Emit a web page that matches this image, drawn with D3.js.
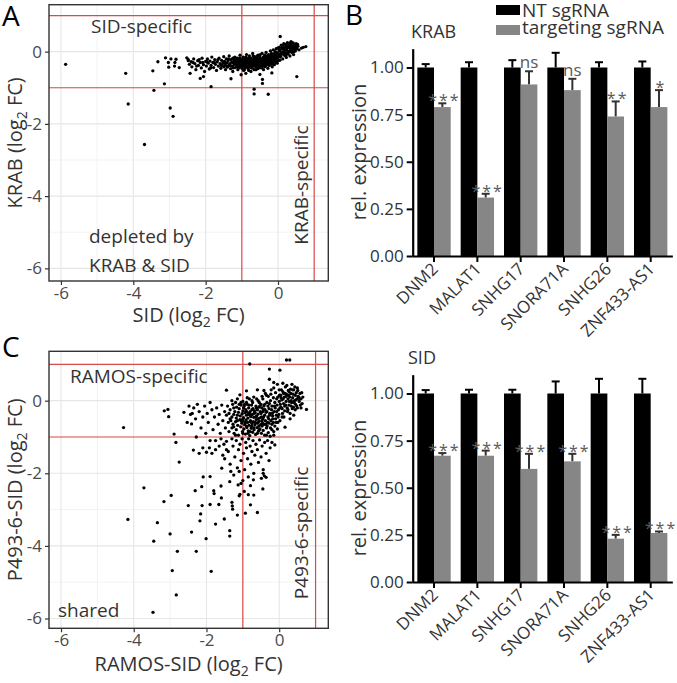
<!DOCTYPE html>
<html><head><meta charset="utf-8">
<script src="https://cdn.jsdelivr.net/npm/d3@7"></script>
<style>
body{margin:0;background:#fff}
svg{display:block}
text{font-family:'Open Sans',sans-serif}
</style></head>
<body><svg id="chart" width="677" height="683"></svg>
<script>
// ---------- DATA ----------
const genes = ["DNM2","MALAT1","SNHG17","SNORA71A","SNHG26","ZNF433-AS1"];
const series = ["NT sgRNA","targeting sgRNA"];
const krabNT = [1,1,1,1,1,1];
const krabNTErr = [0.018,0.028,0.039,0.078,0.028,0.032];
const krabT = [0.79,0.31,0.91,0.88,0.74,0.79];
const krabTErr = [0.02,0.02,0.07,0.06,0.08,0.09];
const krabSig = ["***","***","ns","ns","**","*"];
const sidNT = [1,1,1,1,1,1];
const sidNTErr = [0.018,0.02,0.02,0.064,0.078,0.078];
const sidT = [0.67,0.67,0.60,0.64,0.23,0.26];
const sidTErr = [0.014,0.027,0.08,0.04,0.02,0.008];
const sidSig = ["***","***","***","***","***","***"];
const barTicks = [0,0.25,0.5,0.75,1];
const scatterTicks = [-6,-4,-2,0];
const minorTicks = [-5,-3,-1,1];
const thresholds = [-1,1];

// Panel A: SID (x) vs KRAB (y), log2 FC
const scatterA = [
[-5.87,-0.35],[-4.21,-0.6],[-4.14,-1.45],[-3.69,-2.57],[-3.46,-0.53],[-3.43,-1.07],[-3.32,-0.28],[-3.14,-0.89],
[-3.11,-0.17],[-3.03,-0.3],[-3.02,-0.43],[-2.96,-0.2],[-2.85,-0.3],[-2.86,-0.4],[-2.82,-0.21],[-2.73,-0.44],
[-2.52,-0.17],[-2.48,-0.25],[-2.98,-1.56],[-2.9,-1.79],[-1.85,-0.97],[-0.66,-1.04],[-0.66,-1.17],[-0.27,-1.18],
[-0.43,-0.88],[-0.43,-0.77],[-0.17,-0.59],[-0.5,-0.63],[0.52,-0.69],[0.77,0.14],[0.06,0.42],[-1.02,-0.64],
[-1.3,-0.75],[-2.43,-0.6],[-2.15,-0.74],[-2.06,-0.69],
[-2.48,-0.22],[-2.45,-0.35],[-2.4,-0.28],[-2.38,-0.42],[-2.33,-0.2],[-2.3,-0.33],[-2.27,-0.5],[-2.22,-0.25],
[-2.2,-0.38],[-2.15,-0.3],[-2.12,-0.45],[-2.1,-0.18],[-2.06,-0.36],[-2.03,-0.55],[-2.0,-0.27],
[-1.98,-0.4],[-1.95,-0.2],[-1.93,-0.32],[-1.9,-0.48],[-1.88,-0.26],[-1.85,-0.38],[-1.83,-0.15],[-1.8,-0.3],
[-1.78,-0.44],[-1.75,-0.22],[-1.73,-0.35],[-1.7,-0.52],[-1.68,-0.28],[-1.65,-0.4],[-1.63,-0.18],[-1.6,-0.33],
[-1.58,-0.46],[-1.56,-0.24],[-1.54,-0.37],[-1.52,-0.3],[-1.5,-0.42],[-1.5,-0.14],
[-1.48,-0.27],[-1.46,-0.36],[-1.45,-0.5],[-1.43,-0.2],[-1.41,-0.31],[-1.4,-0.43],[-1.38,-0.25],[-1.36,-0.38],
[-1.35,-0.12],[-1.33,-0.33],[-1.31,-0.47],[-1.3,-0.22],[-1.28,-0.29],[-1.26,-0.4],[-1.25,-0.55],[-1.23,-0.17],
[-1.21,-0.34],[-1.2,-0.26],[-1.18,-0.44],[-1.16,-0.3],[-1.15,-0.2],[-1.13,-0.37],[-1.11,-0.5],[-1.1,-0.24],
[-1.08,-0.32],[-1.06,-0.41],[-1.05,-0.1],[-1.03,-0.28],[-1.02,-0.36],[-1.0,-0.46],[-1.0,-0.21],
[-0.98,-0.3],[-0.97,-0.39],[-0.96,-0.15],[-0.95,-0.52],[-0.94,-0.25],[-0.93,-0.34],[-0.92,-0.44],[-0.91,-0.2],
[-0.9,-0.29],[-0.89,-0.6],[-0.88,-0.37],[-0.87,-0.08],[-0.86,-0.24],[-0.85,-0.42],[-0.84,-0.32],[-0.83,-0.18],
[-0.82,-0.48],[-0.81,-0.27],[-0.8,-0.36],[-0.79,-0.12],[-0.78,-0.22],[-0.77,-0.4],[-0.76,-0.3],[-0.75,-0.55],
[-0.74,-0.19],[-0.73,-0.34],[-0.72,-0.26],[-0.71,-0.45],[-0.7,-0.05],[-0.69,-0.31],[-0.68,-0.38],[-0.67,-0.21],
[-0.66,-0.5],[-0.65,-0.28],[-0.64,-0.14],[-0.63,-0.35],[-0.62,-0.24],[-0.61,-0.42],[-0.6,-0.3],[-0.59,-0.18],
[-0.58,-0.37],[-0.57,-0.26],[-0.56,-0.47],[-0.55,-0.1],[-0.54,-0.33],[-0.53,-0.22],[-0.52,-0.4],[-0.51,-0.29],[-0.5,-0.16],
[-0.49,-0.36],[-0.48,-0.25],[-0.47,-0.44],[-0.46,-0.2],[-0.45,-0.31],[-0.44,-0.05],[-0.43,-0.38],[-0.42,-0.27],
[-0.41,-0.15],[-0.4,-0.5],[-0.39,-0.23],[-0.38,-0.34],[-0.37,-0.1],[-0.36,-0.29],[-0.35,-0.41],[-0.34,-0.18],
[-0.33,-0.02],[-0.32,-0.26],[-0.31,-0.35],[-0.3,-0.13],[-0.29,-0.22],[-0.28,-0.46],[-0.27,-0.3],[-0.26,-0.08],
[-0.25,-0.2],[-0.24,-0.38],[-0.23,-0.14],[-0.22,-0.27],[-0.21,0.02],[-0.2,-0.33],[-0.19,-0.18],[-0.18,-0.05],
[-0.17,-0.24],[-0.16,-0.42],[-0.15,-0.12],[-0.14,-0.3],[-0.13,0.05],[-0.12,-0.2],[-0.11,-0.09],[-0.1,-0.36],
[-0.09,-0.16],[-0.08,0.0],[-0.07,-0.26],[-0.06,-0.11],[-0.05,0.08],[-0.04,-0.21],[-0.03,-0.04],[-0.02,-0.32],[-0.01,0.1],[0.0,-0.15],
[0.02,-0.06],[0.03,0.12],[0.05,-0.24],[0.06,0.02],[0.08,-0.12],[0.09,0.18],[0.1,-0.03],[0.12,0.08],[0.13,-0.2],
[0.15,0.0],[0.16,0.22],[0.18,-0.1],[0.19,0.1],[0.2,-0.04],[0.22,0.15],[0.23,-0.16],[0.25,0.04],[0.26,0.25],
[0.28,-0.07],[0.29,0.12],[0.3,0.0],[0.32,0.2],[0.33,-0.12],[0.35,0.06],[0.36,0.28],[0.38,-0.02],[0.39,0.14],
[0.4,0.05],[0.42,0.24],[0.43,-0.08],[0.45,0.1],[0.46,0.18],[0.48,0.02],[0.5,0.22],[0.52,0.08],[0.55,0.15],[0.58,0.05],[0.65,0.1],[0.7,0.12],
[-1.25,-0.3],[-1.22,-0.22],[-1.19,-0.35],[-1.17,-0.27],[-1.14,-0.41],[-1.12,-0.18],[-1.09,-0.29],[-1.07,-0.35],
[-1.04,-0.23],[-1.01,-0.4],[-0.99,-0.25],[-0.96,-0.33],[-0.94,-0.4],[-0.92,-0.28],[-0.9,-0.36],[-0.88,-0.2],
[-0.86,-0.31],[-0.84,-0.45],[-0.82,-0.25],[-0.8,-0.41],[-0.78,-0.29],[-0.76,-0.35],[-0.74,-0.24],[-0.72,-0.39],
[-0.7,-0.27],[-0.68,-0.33],[-0.66,-0.17],[-0.64,-0.4],[-0.62,-0.3],[-0.6,-0.22],[-0.58,-0.43],[-0.56,-0.32],
[-0.54,-0.2],[-0.52,-0.36],[-0.5,-0.27],[-0.48,-0.31],[-0.46,-0.38],[-0.44,-0.25],[-0.42,-0.33],[-0.4,-0.19],
[-0.38,-0.28],[-0.36,-0.36],[-0.34,-0.24],[-0.32,-0.31],[-0.3,-0.2],[-0.28,-0.36],[-0.26,-0.25],[-0.24,-0.16],
[-0.22,-0.33],[-0.2,-0.24],[-0.18,-0.12],[-0.16,-0.28],[-0.14,-0.19],[-0.12,-0.07],[-0.1,-0.25],[-0.08,-0.14],
[-0.06,-0.3],[-0.04,-0.03],[-0.02,-0.18],[0.01,-0.1],[0.04,0.05],[0.07,-0.07],[0.11,0.12],[0.14,-0.06],
[0.17,0.06],[0.21,-0.1],[0.24,0.1],[0.27,0.0],[0.31,0.12],[0.34,0.02],[0.37,0.18],[0.41,0.1],[0.44,0.0],[0.47,0.12],
[-2.35,-0.3],[-2.25,-0.4],[-2.18,-0.22],[-2.08,-0.3],[-1.96,-0.28],[-1.86,-0.45],[-1.76,-0.3],[-1.66,-0.22],
[-1.57,-0.38],[-1.47,-0.3],[-1.42,-0.4],[-1.37,-0.2],[-1.32,-0.38],[-1.27,-0.2],[-1.24,-0.45],[-1.19,-0.15],
[-1.14,-0.28],[-1.09,-0.45],[-1.06,-0.18],[-0.97,-0.22],[-0.93,-0.5],[-0.89,-0.15],[-0.85,-0.28],[-0.81,-0.52],
[-0.77,-0.18],[-0.73,-0.45],[-0.69,-0.12],[-0.65,-0.36],[-0.61,-0.5],[-0.57,-0.12],[-0.53,-0.45],[-0.49,-0.08],
[-0.45,-0.45],[-0.41,-0.32],[-0.37,-0.42],[-0.33,-0.12],[-0.29,-0.28],[-0.25,-0.32],[-0.21,-0.1],[-0.17,-0.35],
[-0.13,-0.25],[-0.09,-0.05],[-0.05,-0.18],[-0.01,-0.25],[0.03,0.02],[0.06,-0.15],[0.1,0.1],[0.14,0.16],
[0.18,0.02],[0.22,0.2],[0.26,-0.05],[0.3,0.18],[0.34,0.12],[0.38,0.08],[0.42,0.16],[0.46,0.06],[0.5,0.14],
[0.54,0.2],[0.35,0.25],[0.25,0.15]
];

// Panel C: RAMOS-SID (x) vs P493-6-SID (y), log2 FC
const scatterC = [
[-4.28,-0.74],[-4.16,-3.27],[-3.72,-2.4],[-3.45,-3.87],[-3.35,-3.36],[-3.47,-5.83],[-3.17,-2.78],[-3.16,-0.28],
[-3.06,-0.24],[-3.04,-0.44],[-3.0,-3.67],[-2.97,-2.61],[-2.94,-4.68],[-2.89,-0.92],[-2.84,-1.15],[-2.83,-5.35],
[-2.8,-4.15],[-2.75,-1.69],[-2.5,-2.89],[-2.41,-3.62],[-2.31,-2.48],[-2.28,-4.15],[-2.16,-3.12],[-2.18,-3.31],
[-2.13,-2.37],[-2.09,-2.1],[-2.01,-3.8],[-2.12,-2.89],[-1.9,-2.09],[-1.87,-4.7],[-1.8,-2.48],[-1.79,-2.56],
[-1.75,-3.4],[-1.6,-2.35],[-1.59,-2.68],[-1.66,-2.86],[-1.9,-2.86],[-1.51,-3.26],[-1.36,-2.23],[-1.36,-3.58],
[-1.36,-3.73],[-1.3,-2.8],[-1.29,-2.9],[-1.28,-2.99],[-1.15,-3.15],[-1.1,-2.62],[-1.08,-2.58],[-1.13,-2.32],
[-1.05,-2.28],[-0.93,-3.1],[-0.96,-2.5],[-0.85,-2.59],[-0.79,-2.87],[-0.79,-2.34],[-0.7,-2.6],[-0.6,-3.08],
[-0.45,-2.43],[-0.49,-2.14],[-0.41,-2.07],[-0.36,-2.11],
[-0.27,0.59],[-0.27,0.87],[0.02,0.84],[0.2,1.12],[0.29,1.12],[-0.81,1.01],[-0.15,0.5],[-0.05,0.45],[0.1,0.48],
[-0.6,0.3],[-0.9,0.27],[-1.08,0.16],[-1.45,0.29],[0.16,-0.73],[0.3,-0.5],[0.4,-0.4],
[-0.48,-0.2],[-0.45,0.05],[-0.43,-0.45],[-0.4,-0.1],[-0.38,0.2],[-0.36,-0.32],[-0.34,-0.05],[-0.32,-0.6],
[-0.3,0.12],[-0.28,-0.22],[-0.26,-0.4],[-0.24,0.0],[-0.22,0.3],[-0.2,-0.15],[-0.18,-0.5],[-0.16,0.08],
[-0.14,-0.3],[-0.12,-0.05],[-0.1,0.22],[-0.08,-0.4],[-0.06,-0.12],[-0.04,0.1],[-0.02,-0.25],[0.0,0.3],
[0.0,-0.02],[0.02,-0.55],[0.04,0.15],[0.05,-0.18],[0.07,0.02],[0.09,-0.35],[0.1,0.25],[0.12,-0.08],
[0.14,0.1],[0.15,-0.28],[0.17,0.38],[0.19,-0.02],[0.2,0.18],[0.22,-0.2],[0.24,0.05],[0.25,0.28],
[0.27,-0.12],[0.29,0.1],[0.3,-0.35],[0.32,0.2],[0.34,-0.05],[0.35,0.45],[0.37,0.08],[0.39,-0.18],
[0.4,0.3],[0.42,0.0],[0.44,0.15],[0.45,-0.1],[0.47,0.22],[0.49,0.05],[0.5,-0.2],[0.52,0.12],
[0.55,-0.02],[0.57,0.2],[0.6,0.05],[0.63,-0.08],[0.65,0.1],[0.75,-0.24],
[-0.47,-0.55],[-0.42,0.28],[-0.39,-0.25],[-0.35,0.15],[-0.31,-0.45],[-0.27,-0.08],[-0.23,0.18],[-0.19,-0.35],
[-0.15,0.35],[-0.11,-0.2],[-0.07,0.05],[-0.03,-0.45],[0.01,0.15],[0.03,-0.1],[0.06,0.3],[0.08,-0.22],
[0.11,0.05],[0.13,-0.45],[0.16,0.2],[0.18,-0.12],[0.21,0.42],[0.23,-0.3],[0.26,0.15],[0.28,-0.02],
[0.31,0.32],[0.33,0.0],[0.36,-0.22],[0.38,0.18],[0.41,-0.05],[0.43,0.38],[0.46,0.02],[0.48,-0.15],
[0.51,0.28],[0.54,0.1],[0.58,-0.12],[0.62,0.22],
[-1.3,0.0],[-1.15,0.05],[-1.0,-0.02],[-0.88,0.08],[-0.75,0.0],[-0.62,0.05],[-0.55,-0.05],[-0.7,0.1],
[-1.42,-0.15],[-1.35,-0.25],[-1.28,-0.1],[-1.22,-0.3],[-1.17,-0.18],[-1.1,-0.22],[-1.05,-0.12],[-1.0,-0.28],
[-0.96,-0.15],[-0.92,-0.25],[-0.88,-0.1],[-0.84,-0.2],[-0.8,-0.3],[-0.76,-0.12],[-0.72,-0.22],[-0.68,-0.28],
[-0.64,-0.15],[-0.6,-0.25],[-0.56,-0.18],[-0.52,-0.3],[-0.5,-0.1],
[-1.45,-0.4],[-1.38,-0.35],[-1.3,-0.45],[-1.25,-0.38],[-1.18,-0.48],[-1.12,-0.32],[-1.07,-0.42],[-1.02,-0.36],
[-0.98,-0.47],[-0.94,-0.33],[-0.9,-0.4],[-0.86,-0.48],[-0.82,-0.35],[-0.78,-0.44],[-0.74,-0.38],[-0.7,-0.46],
[-0.66,-0.33],[-0.62,-0.42],[-0.58,-0.37],[-0.54,-0.48],[-0.5,-0.35],
[-1.4,-0.6],[-1.33,-0.55],[-1.27,-0.65],[-1.2,-0.58],[-1.14,-0.68],[-1.08,-0.52],[-1.03,-0.62],[-0.99,-0.56],
[-0.95,-0.66],[-0.91,-0.53],[-0.87,-0.6],[-0.83,-0.68],[-0.79,-0.55],[-0.75,-0.63],[-0.71,-0.58],[-0.67,-0.67],
[-0.63,-0.52],[-0.59,-0.61],[-0.55,-0.57],[-0.51,-0.66],[-0.47,-0.7],
[-1.38,-0.85],[-1.3,-0.75],[-1.24,-0.9],[-1.18,-0.8],[-1.12,-0.95],[-1.06,-0.72],[-1.01,-0.85],[-0.97,-0.78],
[-0.93,-0.92],[-0.89,-0.74],[-0.85,-0.83],[-0.81,-0.96],[-0.77,-0.76],[-0.73,-0.87],[-0.69,-0.8],[-0.65,-0.93],
[-0.61,-0.74],[-0.57,-0.84],[-0.53,-0.78],[-0.49,-0.9],[-0.44,-0.82],[-0.4,-0.95],[-0.35,-0.75],[-0.3,-0.88],
[-0.25,-0.98],[-0.2,-0.8],
[-1.0,-0.5],[-0.95,-0.1],[-0.9,-0.7],[-0.85,-0.38],[-0.8,-0.58],[-0.75,-0.25],[-0.7,-0.75],[-0.65,-0.45],
[-0.6,-0.62],[-0.55,-0.8],[-0.45,-0.5],[-0.42,-0.65],[-0.38,-0.55],[-0.33,-0.7],[-0.28,-0.62],[-0.24,-0.75],
[-0.2,-0.65],[-0.15,-0.85],[-0.12,-0.7],[-0.08,-0.6],[-0.05,-0.78],[-1.05,-0.05],[-1.2,-0.05],[-0.82,0.05],
[-0.45,-0.3],[-0.42,-0.15],[-0.58,0.0],[-0.47,0.12],
[-2.53,-0.6],[-2.41,-0.64],[-2.44,-0.38],[-2.39,-0.35],[-2.35,-0.2],[-2.3,-0.5],[-2.25,-0.1],[-2.2,-0.3],
[-2.15,-0.75],[-2.1,-0.45],[-2.05,-0.15],[-2.02,-0.9],[-1.98,-0.35],[-1.95,-0.6],[-1.9,-0.05],[-1.85,-0.25],
[-1.82,-0.8],[-1.78,-0.45],[-1.75,-1.1],[-1.72,-0.2],[-1.68,-0.65],[-1.65,-0.38],[-1.62,-0.9],[-1.58,-0.12],
[-1.55,-0.55],[-1.52,-1.2],[-1.5,-0.3],[-1.48,-0.75],[-2.36,-1.36],[-2.2,-1.45],[-2.1,-1.3],[-2.0,-1.42],
[-1.92,-1.3],[-1.85,-1.45],[-1.75,-1.35],[-1.65,-1.25],[-1.55,-1.5],[-1.45,-1.35],[-2.28,-1.0],[-1.9,-1.1],
[-2.62,-0.32],[-2.48,-0.15],
[-1.6,-1.05],[-1.5,-1.6],[-1.45,-1.12],[-1.4,-1.4],[-1.35,-1.75],[-1.3,-1.05],[-1.27,-1.25],[-1.22,-1.55],
[-1.18,-1.1],[-1.15,-1.85],[-1.12,-1.35],[-1.08,-1.2],[-1.05,-1.65],[-1.02,-1.05],[-0.98,-1.45],[-0.95,-1.9],
[-0.92,-1.15],[-0.9,-1.3],[-0.87,-1.6],[-0.84,-1.05],[-0.8,-1.25],[-0.78,-1.75],[-0.75,-1.4],[-0.72,-1.1],
[-0.7,-2.0],[-0.67,-1.5],[-0.64,-1.2],[-0.6,-1.35],[-0.57,-1.7],[-0.54,-1.08],[-0.5,-1.55],[-0.47,-1.25],
[-0.44,-1.9],[-0.4,-1.15],[-0.36,-1.45],[-0.32,-1.1],[-0.28,-1.65],[-0.25,-1.3],[-0.2,-1.15],[-0.12,-1.22],
[-0.44,-2.0],[-0.71,-2.18],[-1.58,-1.86],[-1.25,-2.05],[-1.0,-2.2],[-0.85,-2.1],[-1.1,-1.95],[-1.33,-1.95],
[-1.25,-0.2],[-1.15,-0.4],[-1.1,-0.1],[-1.05,-0.55],[-0.98,-0.2],[-0.93,-0.6],[-0.89,-0.3],[-0.86,-0.9],
[-0.83,-0.12],[-0.79,-0.4],[-0.76,-0.7],[-0.73,-0.05],[-0.69,-0.35],[-0.66,-0.6],[-0.63,-0.2],[-0.59,-0.5],
[-0.56,-0.7],[-0.53,-0.15],[-0.49,-0.45],[-0.46,-0.62],[-0.43,-0.25],[-0.4,-0.4],[-0.37,-0.65],[-0.34,-0.3],
[-0.31,-0.15],[-0.29,-0.5],[-0.26,-0.35],[-0.23,-0.55],[-0.21,-0.25],[-0.18,-0.42],[-0.16,-0.6],[-0.13,-0.15],
[-0.1,-0.5],[-0.07,-0.3],[-0.04,-0.6],[-0.01,-0.38],[0.02,-0.2],[0.05,0.08],[0.08,-0.45],[0.12,0.2],
[0.15,-0.15],[0.19,0.12],[0.24,-0.25],[0.27,0.25],[0.33,-0.15],[0.37,0.3],[0.44,-0.25],[0.5,0.35],
[0.56,0.05],[0.6,-0.2],[-1.35,-0.5],[-1.25,-0.72],[-1.15,-0.55],[-1.2,-0.95],[-1.0,-0.9],[-0.9,-0.05],
[-0.8,-0.85],[-0.6,-0.9],[-0.35,-0.95],[-0.15,-0.95]
];

// ---------- DRAW ----------
const svg = d3.select("#chart");
const TXT = "#333";

function log2Title(t, prefix){
  t.append("tspan").text(prefix + " (log");
  t.append("tspan").attr("font-size", 14).attr("dy", 5).text("2");
  t.append("tspan").attr("dy", -5).text(" FC)");
}

function scatter(cfg){
  const g = svg.append("g");
  const x = d3.scaleLinear().domain(cfg.xd).range([cfg.l, cfg.r]);
  const y = d3.scaleLinear().domain(cfg.yd).range([cfg.b, cfg.t]);
  // grid
  g.append("g").selectAll("line").data(minorTicks).join("line").attr("x1", d=>x(d)).attr("x2", d=>x(d))
    .attr("y1", cfg.t).attr("y2", cfg.b).attr("stroke", "#f0f0f0").attr("stroke-width", 0.8);
  g.append("g").selectAll("line").data(minorTicks).join("line").attr("y1", d=>y(d)).attr("y2", d=>y(d))
    .attr("x1", cfg.l).attr("x2", cfg.r).attr("stroke", "#f0f0f0").attr("stroke-width", 0.8);
  g.append("g").selectAll("line").data(scatterTicks).join("line").attr("x1", d=>x(d)).attr("x2", d=>x(d))
    .attr("y1", cfg.t).attr("y2", cfg.b).attr("stroke", "#e6e6e6").attr("stroke-width", 1.1);
  g.append("g").selectAll("line").data(scatterTicks).join("line").attr("y1", d=>y(d)).attr("y2", d=>y(d))
    .attr("x1", cfg.l).attr("x2", cfg.r).attr("stroke", "#e6e6e6").attr("stroke-width", 1.1);
  // threshold lines
  g.append("g").selectAll("line").data(thresholds).join("line").attr("x1", d=>x(d)).attr("x2", d=>x(d))
    .attr("y1", cfg.t).attr("y2", cfg.b).attr("stroke", "#d94a4a").attr("stroke-width", 1.2);
  g.append("g").selectAll("line").data(thresholds).join("line").attr("y1", d=>y(d)).attr("y2", d=>y(d))
    .attr("x1", cfg.l).attr("x2", cfg.r).attr("stroke", "#d94a4a").attr("stroke-width", 1.2);
  // points
  g.append("g").selectAll("circle").data(cfg.data).join("circle")
    .attr("cx", d=>x(d[0])).attr("cy", d=>y(d[1])).attr("r", 1.65).attr("fill", "#000");
  // frame
  g.append("rect").attr("x", cfg.l).attr("y", cfg.t).attr("width", cfg.r-cfg.l).attr("height", cfg.b-cfg.t)
    .attr("fill", "none").attr("stroke", "#333").attr("stroke-width", 1.4);
  // axes
  const ax = g.append("g").attr("transform", `translate(0,${cfg.b})`)
    .call(d3.axisBottom(x).tickValues(scatterTicks).tickSize(4).tickPadding(2).tickFormat(d3.format("d")));
  const ay = g.append("g").attr("transform", `translate(${cfg.l},0)`)
    .call(d3.axisLeft(y).tickValues(scatterTicks).tickSize(4).tickPadding(3).tickFormat(d3.format("d")));
  [ax, ay].forEach(a => {
    a.select(".domain").remove();
    a.selectAll(".tick line").attr("stroke", "#333").attr("stroke-width", 1.2);
    a.selectAll(".tick text").attr("font-size", 17).attr("fill", "#4a4a4a").attr("font-family", "'Open Sans',sans-serif");
  });
  ax.selectAll(".tick text").text(d => d < 0 ? "-" + Math.abs(d) : d);
  ay.selectAll(".tick text").text(d => d < 0 ? "-" + Math.abs(d) : d);
  // titles
  const xt = g.append("text").attr("x", (cfg.l+cfg.r)/2).attr("y", cfg.xTitleY).attr("text-anchor", "middle")
    .attr("font-size", 20).attr("fill", TXT);
  log2Title(xt, cfg.xTitle);
  const yt = g.append("text").attr("transform", `translate(${cfg.yTitleX},${(cfg.t+cfg.b)/2}) rotate(-90)`)
    .attr("text-anchor", "middle").attr("font-size", 20).attr("fill", TXT);
  log2Title(yt, cfg.yTitle);
  // annotations
  cfg.notes.forEach(n => {
    const t = g.append("text").attr("font-size", 19).attr("fill", TXT);
    if (n.rot) t.attr("transform", `translate(${n.x},${n.y}) rotate(-90)`).attr("text-anchor", "middle");
    else t.attr("x", n.x).attr("y", n.y);
    t.text(n.text);
  });
  svg.append("text").attr("x", 2).attr("y", cfg.letterY).attr("font-size", 28)
    .attr("font-family", "'Liberation Sans',Arial,sans-serif").attr("fill", "#000").text(cfg.letter);
}

scatter({l:49, r:328.3, t:4.7, b:281, xd:[-6.33,1.39], yd:[-6.35,1.30], data:scatterA,
  xTitle:"SID", yTitle:"KRAB", xTitleY:322, yTitleX:22, letter:"A", letterY:26,
  notes:[{text:"SID-specific", x:91, y:33},{text:"depleted by", x:89, y:243},{text:"KRAB & SID", x:89, y:272},
         {text:"KRAB-specific", x:308, y:185, rot:true}]});
scatter({l:49, r:328.3, t:351.3, b:628.3, xd:[-6.33,1.35], yd:[-6.27,1.36], data:scatterC,
  xTitle:"RAMOS-SID", yTitle:"P493-6-SID", xTitleY:671, yTitleX:22, letter:"C", letterY:357,
  notes:[{text:"RAMOS-specific", x:70, y:383},{text:"shared", x:58, y:617},
         {text:"P493-6-specific", x:308, y:533, rot:true}]});

// Bar charts
const GRAY = "#868686";
function barPanel(cfg){
  const g = svg.append("g");
  const x0 = d3.scaleBand().domain(genes).range([412.35, 672.35]);
  const bw = x0.bandwidth();
  const x1 = d3.scaleBand().domain(series).range([bw*0.115, bw*0.885]);
  const y = d3.scaleLinear().domain([0, 1.1]).range([cfg.y0, cfg.y0 - 1.1*188.5]);
  const rows = genes.map((gname, i) => ({gene:gname, vals:[
    {s:series[0], v:cfg.nt[i], e:cfg.ntE[i], c:"#000", ec:"#000"},
    {s:series[1], v:cfg.t[i], e:cfg.tE[i], c:GRAY, ec:"#333", sig:cfg.sig[i]}]}));
  const grp = g.selectAll(".grp").data(rows).join("g").attr("transform", d=>`translate(${x0(d.gene)},0)`);
  const bars = grp.selectAll("g").data(d=>d.vals).join("g");
  const cx = d => x1(d.s)+x1.bandwidth()/2;
  bars.append("line").attr("x1", cx).attr("x2", cx)
    .attr("y1", d=>y(d.v)).attr("y2", d=>y(d.v+d.e)).attr("stroke", d=>d.ec).attr("stroke-width", 2);
  bars.append("line").attr("x1", d=>cx(d)-4).attr("x2", d=>cx(d)+4)
    .attr("y1", d=>y(d.v+d.e)).attr("y2", d=>y(d.v+d.e)).attr("stroke", d=>d.ec).attr("stroke-width", 2);
  bars.append("rect").attr("x", d=>x1(d.s)).attr("width", x1.bandwidth())
    .attr("y", d=>y(d.v)).attr("height", d=>y(0)-y(d.v)).attr("fill", d=>d.c);
  bars.filter(d=>d.sig).append("text")
    .attr("x", d=>cx(d) + (d.sig==="ns"?0:2))
    .attr("y", d=> d.sig==="ns" ? y(d.v+d.e)-3 : y(d.v+d.e)+3)
    .attr("text-anchor", "middle").attr("fill", "#5a5a5a")
    .attr("font-size", d=>d.sig==="ns"?17:16).attr("letter-spacing", d=>d.sig==="ns"?0:2)
    .text(d=>d.sig);
  // axes
  const ay = g.append("g").attr("transform", `translate(412.7,0)`)
    .call(d3.axisLeft(y).tickValues(barTicks).tickSize(6).tickSizeOuter(0).tickPadding(3).tickFormat(d3.format(".2f")));
  const ax = g.append("g").attr("transform", `translate(0,${cfg.y0})`)
    .call(d3.axisBottom(x0).tickSize(6).tickSizeOuter(0).tickPadding(2));
  [ax, ay].forEach(a => {
    a.select(".domain").attr("stroke", "#000").attr("stroke-width", 2.2);
    a.selectAll(".tick line").attr("stroke", "#000").attr("stroke-width", 2);
    a.selectAll(".tick text").attr("font-size", 17).attr("fill", "#333").attr("font-family", "'Open Sans',sans-serif");
  });
  ax.selectAll(".tick text").attr("text-anchor", "end").attr("dy", 0)
    .attr("transform", "translate(5,14) rotate(-45)").attr("y", 0).attr("x", 0);
  g.append("text").attr("x", cfg.titleX).attr("y", cfg.titleY).attr("font-size", 18).attr("fill", TXT).text(cfg.title);
  g.append("text").attr("transform", `translate(366,${cfg.ytc}) rotate(-90)`).attr("text-anchor", "middle")
    .attr("font-size", 20).attr("fill", TXT).text("rel. expression");
}
barPanel({y0:256, nt:krabNT, ntE:krabNTErr, t:krabT, tE:krabTErr, sig:krabSig, title:"KRAB", titleX:411, titleY:38, ytc:152});
barPanel({y0:582, nt:sidNT, ntE:sidNTErr, t:sidT, tE:sidTErr, sig:sidSig, title:"SID", titleX:408, titleY:364, ytc:488});

// Legend
const lg = svg.append("g");
lg.selectAll("rect").data(series).join("rect").attr("x", 496).attr("y", (d,i)=>5+i*20)
  .attr("width", 24).attr("height", 10).attr("fill", (d,i)=> i===0 ? "#000" : GRAY);
lg.selectAll("text").data(series).join("text").attr("x", 522).attr("y", (d,i)=>16.5+i*17.5)
  .attr("font-size", 19).attr("fill", TXT).text(d=>d);
svg.append("text").attr("x", 345).attr("y", 25).attr("font-size", 28)
  .attr("font-family", "'Liberation Sans',Arial,sans-serif").attr("fill", "#000").text("B");
</script></body></html>
